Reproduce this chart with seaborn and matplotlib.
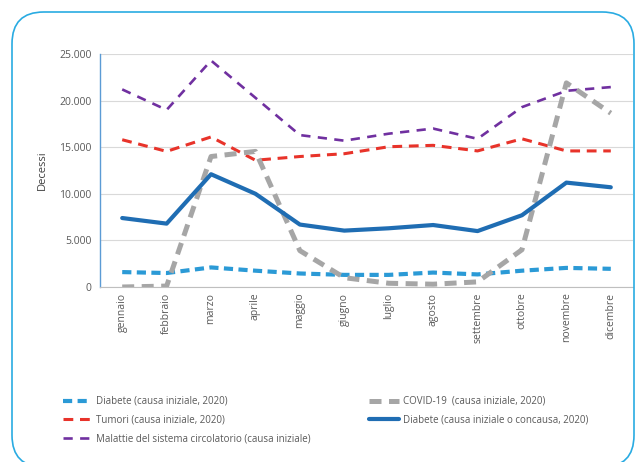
import pandas as pd
import matplotlib.pyplot as plt
import seaborn as sns
from matplotlib.patches import FancyBboxPatch
from matplotlib.ticker import FuncFormatter

months = ["gennaio", "febbraio", "marzo", "aprile", "maggio", "giugno",
          "luglio", "agosto", "settembre", "ottobre", "novembre", "dicembre"]

diabete_iniziale = [1600, 1500, 2100, 1750, 1450, 1300, 1300, 1550, 1350, 1750, 2050, 1950]
tumori = [15800, 14550, 16100, 13600, 14000, 14300, 15050, 15200, 14600, 15900, 14600, 14600]
malattie_circ = [21200, 19000, 24300, 20300, 16300, 15700, 16450, 17000, 15900, 19300, 21050, 21450]
covid = [0, 100, 14000, 14550, 3900, 1000, 400, 300, 550, 4000, 21900, 18650]
diabete_concausa = [7400, 6800, 12100, 10000, 6700, 6050, 6300, 6650, 6000, 7700, 11200, 10700]

labels = [
    "Diabete (causa iniziale, 2020)",
    "Tumori (causa iniziale, 2020)",
    "Malattie del sistema circolatorio (causa iniziale)",
    "COVID-19  (causa iniziale, 2020)",
    "Diabete (causa iniziale o concausa, 2020)",
]

sns.set_style("white")
plt.rcParams["font.family"] = ["Open Sans", "DejaVu Sans"]

fig = plt.figure(figsize=(6.35, 4.62), dpi=100)
ax = fig.add_axes([100 / 635, 1 - 287 / 462, 533 / 635, 233 / 462])

# rounded frame around the chart
frame = FancyBboxPatch((12 / 635, -5 / 462), 622 / 635, 455 / 462,
                       boxstyle="round,pad=0,rounding_size=0.05",
                       transform=fig.transFigure, fill=False,
                       edgecolor="#29ABE2", linewidth=1.2, zorder=0,
                       mutation_aspect=635 / 462)
fig.patches.append(frame)

series = [
    (diabete_iniziale, "#2B9AD6", 3.0, (0, (2.2, 1.3))),
    (tumori, "#E8332A", 2.2, (0, (3.2, 2.2))),
    (malattie_circ, "#7030A0", 1.9, (0, (3.5, 2.8))),
    (covid, "#A6A6A6", 3.6, (0, (2.4, 1.5))),
    (diabete_concausa, "#1F6DB3", 3.0, "-"),
]

df = pd.DataFrame({"mese": months})
for (vals, color, lw, ls), lab in zip(series, labels):
    df["v"] = vals
    sns.lineplot(data=df, x="mese", y="v", ax=ax, color=color, lw=lw,
                 linestyle=ls, sort=False, label=lab)

ax.set_xlim(-0.5, 11.5)
ax.set_ylim(0, 25000)
ax.set_yticks(range(0, 25001, 5000))
ax.yaxis.set_major_formatter(FuncFormatter(lambda v, p: f"{int(v):,}".replace(",", ".")))
ax.grid(axis="y", color="#D9D9D9", lw=0.8)
ax.set_axisbelow(True)

ax.set_xticks(range(12))
ax.set_xticklabels(months, rotation=90, fontsize=7.5, color="#595959")
ax.set_xticks([i - 0.5 for i in range(13)], minor=True)
ax.tick_params(axis="x", which="major", length=0, pad=4)
ax.tick_params(axis="x", which="minor", length=4, color="#BFBFBF", direction="out")
ax.tick_params(axis="y", length=0, labelsize=7.5, labelcolor="#595959", pad=6)

for s in ["top", "right"]:
    ax.spines[s].set_visible(False)
ax.spines["left"].set_color("#5B9BD5")
ax.spines["left"].set_linewidth(1.0)
ax.spines["bottom"].set_color("#BFBFBF")

ax.set_xlabel("")
ax.set_ylabel("Decessi", fontsize=8, color="#404040", labelpad=8.5)

ax.legend(loc="upper left", bbox_to_anchor=(-0.086, -0.43), ncol=2, frameon=False,
          fontsize=7, labelcolor="#595959", handlelength=3.0, handletextpad=0.45,
          columnspacing=6.0, labelspacing=0.8)

fig.savefig("out.png", dpi=100)
